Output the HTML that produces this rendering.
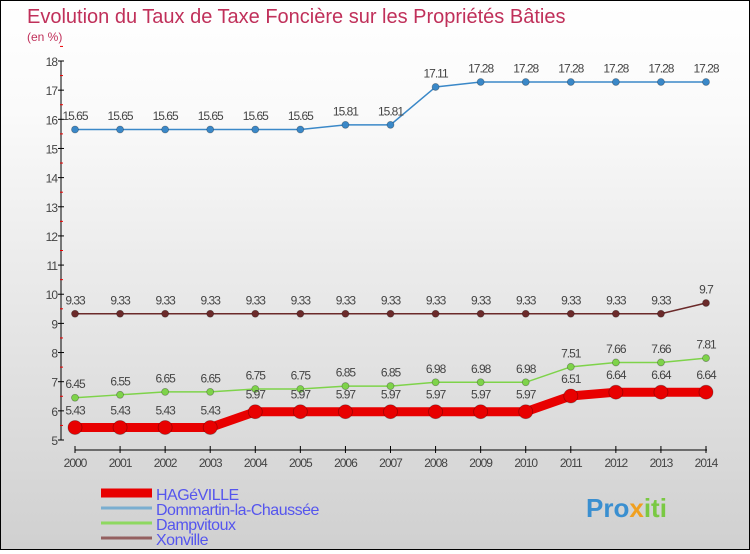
<!DOCTYPE html>
<html><head><meta charset="utf-8"><style>
body{margin:0;width:750px;height:550px;overflow:hidden;font-family:"Liberation Sans",sans-serif}
#c{position:absolute;left:0;top:0;width:748px;height:548px;border:1px solid #000;background:linear-gradient(#fff,#fafafa 20%,#d0d0d0)}
</style></head><body>
<div id="c">
<svg id="s" width="748" height="548" xmlns="http://www.w3.org/2000/svg">
<text x="26" y="22" font-size="20" fill="#c0305a">Evolution du Taux de Taxe Foncière sur les Propriétés Bâties</text>
<text x="26" y="40" font-size="12" fill="#c0305a">(en %)</text>
<g id="g"></g>
</svg>
</div>
<script>
const years=[2000,2001,2002,2003,2004,2005,2006,2007,2008,2009,2010,2011,2012,2013,2014];
const hageville=[5.43,5.43,5.43,5.43,5.97,5.97,5.97,5.97,5.97,5.97,5.97,6.51,6.64,6.64,6.64];
const dommartin=[15.65,15.65,15.65,15.65,15.65,15.65,15.81,15.81,17.11,17.28,17.28,17.28,17.28,17.28,17.28];
const dampvitoux=[6.45,6.55,6.65,6.65,6.75,6.75,6.85,6.85,6.98,6.98,6.98,7.51,7.66,7.66,7.81];
const xonville=[9.33,9.33,9.33,9.33,9.33,9.33,9.33,9.33,9.33,9.33,9.33,9.33,9.33,9.33,9.7];
const yTicks=[5,6,7,8,9,10,11,12,13,14,15,16,17,18];
const NS='http://www.w3.org/2000/svg';
const g=document.getElementById('g');
function X(i){return 74+i*(705-74)/(years.length-1);}
function Y(v){return 439-(v-5)*(379/13);}
function el(t,a,p){const e=document.createElementNS(NS,t);for(const k in a)e.setAttribute(k,a[k]);(p||g).appendChild(e);return e;}
let ax=el('line',{x1:60,y1:Y(18),x2:60,y2:Y(5),stroke:'#000'});


yTicks.forEach(v=>{
 el('line',{x1:57,x2:63,y1:Y(v),y2:Y(v),stroke:'#000'});
 el('line',{x1:59,x2:62,y1:Y(v+0.5),y2:Y(v+0.5),stroke:'#e00'});
 const t=el('text',{x:56,y:Y(v)+5,'font-size':12,'text-anchor':'end',fill:'#444','letter-spacing':'-1'});t.textContent=v;
 
 
});
let xa=el('line',{x1:74,x2:706,y1:449,y2:449,stroke:'#000'});


years.forEach((y,i)=>{
 el('line',{x1:X(i),x2:X(i),y1:445,y2:452,stroke:'#000'});
 const t=el('text',{x:X(i),y:466,'font-size':12,'text-anchor':'middle',fill:'#444','letter-spacing':'-1'});t.textContent=y;
 
 
});
function series(vals,name,color,lw,r,labelColor){
 const grp=el('g',{});
 
 
 el('polyline',{points:vals.map((v,i)=>X(i)+','+Y(v)).join(' '),fill:'none',stroke:color,'stroke-width':lw},grp);
 vals.forEach((v,i)=>{
  const c=el('circle',{cx:X(i),cy:Y(v),r:r,fill:color,stroke:'rgba(0,0,0,0.3)','stroke-width':0.8},grp);
  
  
  const t=el('text',{x:X(i),y:Y(v)-(r+6),'font-size':12,'text-anchor':'middle',fill:'#444','letter-spacing':'-1'},grp);t.textContent=v;
  
  
 });
}
series(xonville,'xonville','#6b2a2a',1.5,3.5);
series(dampvitoux,'dampvitoux','#7ed34a',1.5,3.5);
series(dommartin,'dommartin','#3a88c8',1.5,3.5);
series(hageville,'hageville','#e80000',9,7);
const leg=[['HAGéVILLE','#e80000',9],['Dommartin-la-Chaussée','#7aaed0',3],['Dampvitoux','#8ed860',3],['Xonville','#946060',3]];
leg.forEach((l,i)=>{
 const y=492+i*15;
 const grp=el('g',{});
 
 
 el('line',{x1:100,x2:151,y1:y,y2:y,stroke:l[1],'stroke-width':l[2]},grp);
 const t=el('text',{x:155,y:y+7,'font-size':16,fill:'#5555ee','letter-spacing':'-0.5'},grp);t.textContent=l[0];
});
const logo=el('text',{x:585,y:516,'font-size':26,'font-weight':'bold',fill:'#3a8fd0'});
logo.innerHTML='Pro<tspan fill="#f0a020">x</tspan><tspan fill="#7ac943">iti</tspan>';


</script>
</body></html>
